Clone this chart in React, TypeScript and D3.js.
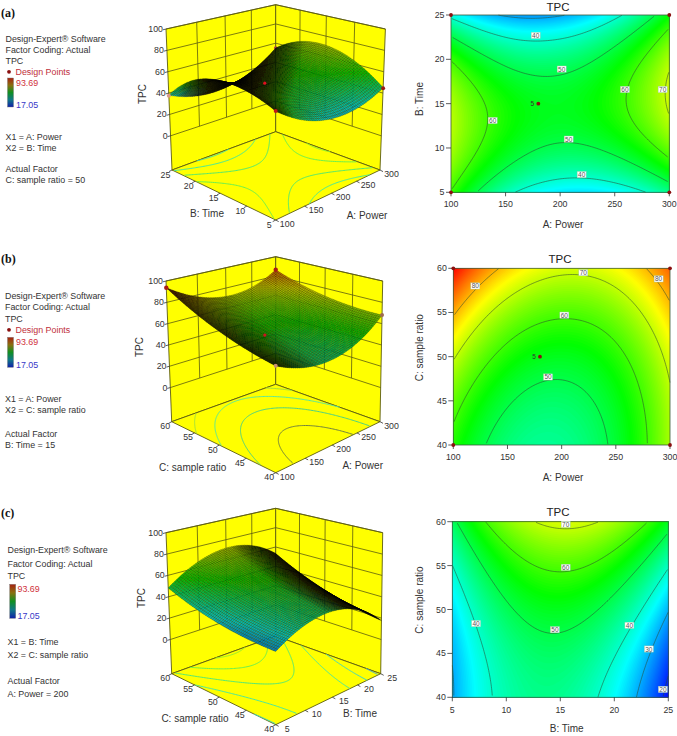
import React from "react";
import * as d3 from "d3";

const FONT = "'Liberation Sans', Arial, sans-serif";
const powerTicks = [100, 150, 200, 250, 300];
const timeTicks = [5, 10, 15, 20, 25];
const ratioTicks = [40, 45, 50, 55, 60];
const zTicks = [0, 20, 40, 60, 80, 100];
const colorStops = [17.05, 36.2, 55.37, 74.53, 93.69];
const colorNames = ["#0000ff", "#00ffff", "#00ff00", "#ffff00", "#ff0000"];

// response: rows low -> high second factor, columns low -> high first factor
const tpcPowerTime = [
  [59.5, 42, 34.5, 35.6, 45],
  [68, 54.3, 49, 52, 63.3],
  [68.5, 56.4, 53, 57.9, 71],
  [59.5, 48, 46.5, 53.3, 68.3],
  [38, 29.3, 29.5, 38.1, 55],
];
const tpcPowerRatio = [
  [57.8, 46.6, 44.6, 51.6, 68],
  [63, 50.8, 47.7, 53.6, 68.9],
  [70.8, 57.4, 53.2, 58, 72.3],
  [81, 66.5, 61.3, 65, 78.2],
  [93.7, 78.2, 71.8, 74.4, 86.5],
];
const tpcTimeRatio = [
  [29.5, 42.3, 44.6, 36.4, 17.7],
  [30.5, 44.3, 47.7, 40.5, 22.9],
  [33.9, 48.8, 53.2, 47.1, 30.5],
  [39.9, 55.8, 61.3, 56.2, 40.7],
  [48.3, 65.3, 71.8, 67.8, 53.3],
];

const levelsA = [30, 40, 50, 60, 70];
const levelsB = [50, 60, 70, 80];
const levelsC = [20, 30, 40, 50, 60, 70];

const labelsAValue = [40, 50, 60, 60, 70, 50, 40];
const labelsAX = [177.6, 201.4, 138.2, 259.4, 293.9, 207.8, 219.7];
const labelsAY = [22.7, 18.9, 13.1, 16.6, 16.6, 11, 7];
const labelsBValue = [80, 70, 80, 60, 50];
const labelsBX = [120.3, 220, 289.5, 202.5, 187.4];
const labelsBY = [58, 59.5, 58.8, 54.7, 47.7];
const labelsCValue = [70, 60, 40, 50, 40, 30, 20];
const labelsCX = [15.5, 15.5, 7.2, 14.5, 21.4, 23.2, 24.5];
const labelsCY = [59.7, 54.8, 48.4, 47.7, 48.2, 45.5, 40.9];

const pointsAX = [300, 100, 300, 100, 180];
const pointsAY = [25, 25, 5, 5, 15];
const pointsAZ = [55, 37.5, 44.5, 59.6, 52.5];
const pointsBX = [300, 100, 300, 100, 180];
const pointsBY = [60, 60, 40, 40, 50];
const pointsBZ = [86.5, 93.7, 68, 58, 52.5];

const legendA = ["X1 = A: Power", "X2 = B: Time", "Actual Factor", "C: sample ratio = 50"];
const legendB = ["X1 = A: Power", "X2 = C: sample ratio", "Actual Factor", "B: Time = 15"];
const legendC = ["X1 = B: Time", "X2 = C: sample ratio", "Actual Factor", "A: Power = 200"];

const color = d3.scaleLinear<string>().domain(colorStops).range(colorNames).clamp(true);

function spline(p: number[], t: number) {
  const n = p.length;
  const s = Math.min(Math.max(t, 0), n - 1) ;
  const i = Math.min(Math.floor(s), n - 2);
  const f = s - i;
  const at = (k: number) => {
    if (k < 0) return 3 * p[0] - 3 * p[1] + p[2];
    if (k >= n) return 3 * p[n - 1] - 3 * p[n - 2] + p[n - 3];
    return p[k];
  };
  const a = at(i - 1), b = at(i), c = at(i + 1), d = at(i + 2);
  return 0.5 * (2 * b + (c - a) * f + (2 * a - 5 * b + 4 * c - d) * f * f + (3 * b - a - 3 * c + d) * f * f * f);
}
function surfaceAt(grid: number[][], u: number, v: number) {
  const col = grid.map((row) => spline(row, u * 4));
  return spline(col, v * 4);
}
function sample(grid: number[][], nx: number, ny: number) {
  const out = new Float64Array(nx * ny);
  for (let j = 0; j < ny; j++)
    for (let i = 0; i < nx; i++) out[j * nx + i] = surfaceAt(grid, i / (nx - 1), j / (ny - 1));
  return out;
}
function contourRings(grid: number[][], thresholds: number[], nx = 130, ny = 100) {
  return d3.contours().size([nx, ny]).thresholds(thresholds)(sample(grid, nx, ny) as any);
}
function openRuns(ring: number[][], nx: number, ny: number) {
  const inside = (p: number[]) => p[0] > 0.5 && p[0] < nx - 0.5 && p[1] > 0.5 && p[1] < ny - 0.5;
  const start = ring.findIndex((p) => !inside(p));
  if (start < 0) return [ring];
  const runs: number[][][] = [];
  let cur: number[][] = [];
  for (let k = 0; k < ring.length; k++) {
    const p = ring[(start + k) % ring.length];
    if (inside(p)) cur.push(p);
    else {
      if (cur.length > 1) runs.push(cur);
      cur = [];
    }
  }
  if (cur.length > 1) runs.push(cur);
  return runs;
}
function levelLines(grid: number[][], levels: number[]) {
  const nx = 130, ny = 100;
  return contourRings(grid, levels, nx, ny).flatMap((c: any) =>
    c.coordinates.flatMap((poly: number[][][]) =>
      poly.flatMap((ring) =>
        openRuns(ring, nx, ny).map((run) => ({
          value: c.value as number,
          uv: run.map((p) => [(p[0] - 0.5) / (nx - 1), (p[1] - 0.5) / (ny - 1)]),
        }))
      )
    )
  );
}

type Pt = [number, number];
function homography(p0: Pt, p1: Pt, p2: Pt, p3: Pt) {
  const dx1 = p1[0] - p2[0], dx2 = p3[0] - p2[0], sx = p0[0] - p1[0] + p2[0] - p3[0];
  const dy1 = p1[1] - p2[1], dy2 = p3[1] - p2[1], sy = p0[1] - p1[1] + p2[1] - p3[1];
  const den = dx1 * dy2 - dx2 * dy1;
  const g = (sx * dy2 - dx2 * sy) / den, h = (dx1 * sy - sx * dy1) / den;
  const a = p1[0] - p0[0] + g * p1[0], b = p3[0] - p0[0] + h * p3[0];
  const d = p1[1] - p0[1] + g * p1[1], e = p3[1] - p0[1] + h * p3[1];
  return (u: number, v: number): Pt => {
    const w = g * u + h * v + 1;
    return [(a * u + b * v + p0[0]) / w, (d * u + e * v + p0[1]) / w];
  };
}

const poly = (pts: Pt[], close = true) =>
  "M" + pts.map((p) => `${p[0].toFixed(2)},${p[1].toFixed(2)}`).join("L") + (close ? "Z" : "");

const FLOOR_Z = -32;
const CELLS = 62;
const WALL = "#5c5c10";
const TICK_FS = 8.8;
const TITLE_FS = 10;

function Surface3D(props: any) {
  const { grid, uTicks, vTicks, levels, levelColor, F, R, K, L, TF, TR, TK, TL, uTitle, vTitle, uTitlePos, vTitlePos, zTitlePos, points, pointStyle } = props;
  const floor = homography(F, R, K, L);
  const top = homography(TF, TR, TK, TL);
  const uS = d3.scaleLinear().domain([uTicks[0], uTicks[4]]).range([0, 1]);
  const vS = d3.scaleLinear().domain([vTicks[0], vTicks[4]]).range([0, 1]);
  const zS = d3.scaleLinear().domain([FLOOR_Z, 100]).range([0, 1]);
  const P = (u: number, v: number, z: number): Pt => {
    const a = floor(u, v), b = top(u, v), t = zS(z);
    return [a[0] + (b[0] - a[0]) * t, a[1] + (b[1] - a[1]) * t];
  };
  const mesh: { d: string; fill: string }[] = [];
  const zv = (i: number, j: number) => surfaceAt(grid, i / CELLS, j / CELLS);
  for (let i = CELLS - 1; i >= 0; i--)
    for (let j = CELLS - 1; j >= 0; j--) {
      const zs = [zv(i, j), zv(i + 1, j), zv(i + 1, j + 1), zv(i, j + 1)];
      const q: Pt[] = [
        P(i / CELLS, j / CELLS, zs[0]),
        P((i + 1) / CELLS, j / CELLS, zs[1]),
        P((i + 1) / CELLS, (j + 1) / CELLS, zs[2]),
        P(i / CELLS, (j + 1) / CELLS, zs[3]),
      ];
      const area = Math.abs(d3.polygonArea(q));
      const f = 0.72 * Math.pow(Math.min(1, area / 2.7), 2.3);
      mesh.push({ d: poly(q), fill: d3.interpolateRgb("#000000", color(d3.mean(zs) as number))(f) });
    }
  const lines = levelLines(grid, levels);
  const wallLine = (a: Pt, b: Pt, key: string) => (
    <line key={key} x1={a[0]} y1={a[1]} x2={b[0]} y2={b[1]} stroke={WALL} strokeWidth={0.8} />
  );
  const dots = (flagged: boolean) =>
    points &&
    points.x.map((x: number, i: number) => {
      const st = pointStyle[i];
      if (st.behind !== flagged) return null;
      const p = P(uS(x), vS(points.y[i]), points.z[i]);
      return <circle key={i} cx={p[0]} cy={p[1]} r={st.r} fill={st.fill} />;
    });
  return (
    <g>
      <path d={poly([L, K, TK, TL])} fill="#ffff00" stroke={WALL} strokeWidth={0.9} />
      <path d={poly([K, R, TR, TK])} fill="#ffff00" stroke={WALL} strokeWidth={0.9} />
      <path d={poly([F, R, K, L])} fill="#ffff00" stroke={WALL} strokeWidth={0.9} />
      {zTicks.map((z) => (
        <g key={z}>
          {wallLine(P(0, 1, z), P(1, 1, z), "a")}
          {wallLine(P(1, 1, z), P(1, 0, z), "b")}
        </g>
      ))}
      {uTicks.slice(1, 4).map((t: number) => wallLine(P(uS(t), 1, 0), P(uS(t), 1, 100), "u" + t))}
      {vTicks.slice(1, 4).map((t: number) => wallLine(P(1, vS(t), 0), P(1, vS(t), 100), "v" + t))}
      {lines.map((l: any, i: number) => (
        <path key={i} d={poly(l.uv.map((q: number[]) => floor(q[0], q[1])), false)} fill="none" stroke={levelColor[l.value]} strokeWidth={1} />
      ))}
      {/* axes ticks */}
      {uTicks.map((t: number) => {
        const p = floor(uS(t), 0);
        return (
          <g key={t}>
            <line x1={p[0]} y1={p[1]} x2={p[0] + 3} y2={p[1] + 1.6} stroke="#333" strokeWidth={0.8} />
            <text x={p[0] + 11.5} y={p[1] + 4} fontSize={TICK_FS} fontFamily={FONT} fill="#333" textAnchor="middle" dominantBaseline="central">{t}</text>
          </g>
        );
      })}
      {vTicks.map((t: number) => {
        const p = floor(0, vS(t));
        return (
          <g key={t}>
            <line x1={p[0]} y1={p[1]} x2={p[0] - 3} y2={p[1] + 1.6} stroke="#333" strokeWidth={0.8} />
            <text x={p[0] - 6.5} y={p[1] + 4.5} fontSize={TICK_FS} fontFamily={FONT} fill="#333" textAnchor="middle" dominantBaseline="central">{t}</text>
          </g>
        );
      })}
      {zTicks.map((z) => {
        const p = P(0, 1, z);
        return (
          <g key={z}>
            <line x1={p[0]} y1={p[1]} x2={p[0] - 3} y2={p[1] + 0.8} stroke="#333" strokeWidth={0.8} />
            <text x={p[0] - 3} y={p[1]} fontSize={TICK_FS} fontFamily={FONT} fill="#333" textAnchor="end" dominantBaseline="central">{z}</text>
          </g>
        );
      })}
      {dots(true)}
      <g filter="url(#soft)">
        {mesh.map((m, i) => (
          <path key={i} d={m.d} fill={m.fill} stroke="#000" strokeWidth={0.2} />
        ))}
      </g>
      {dots(false)}
      <text x={uTitlePos[0]} y={uTitlePos[1]} fontSize={TITLE_FS} fontFamily={FONT} fill="#333" textAnchor="middle" dominantBaseline="central">{uTitle}</text>
      <text x={vTitlePos[0]} y={vTitlePos[1]} fontSize={TITLE_FS} fontFamily={FONT} fill="#333" textAnchor="middle" dominantBaseline="central">{vTitle}</text>
      <text transform={`translate(${zTitlePos[0]},${zTitlePos[1]}) rotate(-90)`} fontSize={TITLE_FS} fontFamily={FONT} fill="#333" textAnchor="middle" dominantBaseline="central">TPC</text>
    </g>
  );
}

const fillThresholds = d3.range(14, 96, 0.5);

function Contour2D(props: any) {
  const { grid, xTicks, yTicks, levels, box, xTitle, yTitle, xTitleY, xTitleX, yTitleX, yTitleY, titleX, titleY, tickY, labels, points } = props;
  const [l, r, t, b] = box;
  const x = d3.scaleLinear().domain([xTicks[0], xTicks[4]]).range([l, r]);
  const y = d3.scaleLinear().domain([yTicks[0], yTicks[4]]).range([b, t]);
  const nx = 130, ny = 100;
  const X = d3.scaleLinear().domain([0.5, nx - 0.5]).range([l, r]).clamp(true);
  const Y = d3.scaleLinear().domain([0.5, ny - 0.5]).range([b, t]).clamp(true);
  const bands = contourRings(grid, fillThresholds, nx, ny);
  const lines = levelLines(grid, levels);
  return (
    <g>
      <rect x={l} y={t} width={r - l} height={b - t} fill={color(14)} />
      {bands.map((c: any) => (
        <path
          key={c.value}
          fill={color(c.value + 0.25)}
          fillRule="evenodd"
          d={c.coordinates.map((pg: number[][][]) => pg.map((ring) => poly(ring.map((p) => [X(p[0]), Y(p[1])] as Pt))).join("")).join("")}
        />
      ))}
      {lines.map((ln: any, i: number) => (
        <path key={i} fill="none" stroke="#2a4a30" strokeWidth={0.55} d={poly(ln.uv.map((q: number[]) => [l + q[0] * (r - l), b + q[1] * (t - b)] as Pt), false)} />
      ))}
      <rect x={l} y={t} width={r - l} height={b - t} fill="none" stroke="#3d5a3d" strokeWidth={0.8} />
      {xTicks.map((v: number) => (
        <g key={v}>
          <line x1={x(v)} x2={x(v)} y1={b} y2={b + 4} stroke="#333" strokeWidth={0.8} />
          <text x={x(v)} y={tickY} fontSize={TICK_FS} fontFamily={FONT} fill="#333" textAnchor="middle">{v}</text>
        </g>
      ))}
      {yTicks.map((v: number) => (
        <g key={v}>
          <line x1={l - 5} x2={l} y1={y(v)} y2={y(v)} stroke="#333" strokeWidth={0.8} />
          <text x={l - 6.5} y={y(v)} fontSize={TICK_FS} fontFamily={FONT} fill="#333" textAnchor="end" dominantBaseline="central">{v}</text>
        </g>
      ))}
      {labels.value.map((v: number, i: number) => (
        <g key={i}>
          <rect x={x(labels.x[i]) - 4.5} y={y(labels.y[i]) - 3.1} width={9} height={6.2} fill="#ffffff" stroke="#9fc8a8" strokeWidth={0.4} />
          <text x={x(labels.x[i])} y={y(labels.y[i])} fontSize={6.5} fontFamily={FONT} fill="#555" textAnchor="middle" dominantBaseline="central">{v}</text>
        </g>
      ))}
      {points &&
        points.x.map((v: number, i: number) => <circle key={i} cx={x(v)} cy={y(points.y[i])} r={1.9} fill="#8a1010" />)}
      {points && (
        <text x={x(points.x[4]) - 6} y={y(points.y[4]) - 0.5} fontSize={6.5} fontFamily={FONT} fill="#333" textAnchor="middle" dominantBaseline="central">5</text>
      )}
      <text x={titleX} y={titleY} fontSize={11.5} fontFamily={FONT} fill="#222" textAnchor="middle">TPC</text>
      <text x={xTitleX} y={xTitleY} fontSize={TITLE_FS} fontFamily={FONT} fill="#333" textAnchor="middle">{xTitle}</text>
      <text transform={`translate(${yTitleX},${yTitleY}) rotate(-90)`} fontSize={TITLE_FS} fontFamily={FONT} fill="#333" textAnchor="middle" dominantBaseline="central">{yTitle}</text>
    </g>
  );
}

function Legend(props: any) {
  const { x, letter, letterY, ys, lines, showPoints, barX, barTop, barBottom, hiY, loY, valX } = props;
  const T = (s: string, yy: number, xx = x, fill = "#333") => (
    <text key={s + yy} x={xx} y={yy} fontSize={8.9} fontFamily={FONT} fill={fill}>{s}</text>
  );
  return (
    <g>
      <text x={1} y={letterY} fontSize={12} fontWeight="bold" fontFamily="'Liberation Serif', serif" fill="#111">{letter}</text>
      {T("Design-Expert® Software", ys[0])}
      {T("Factor Coding: Actual", ys[1])}
      {T("TPC", ys[2])}
      {showPoints && (
        <g>
          <circle cx={9} cy={ys[3] - 3.2} r={1.9} fill="#8a1010" />
          {T("Design Points", ys[3], 15.5, "#c0303a")}
        </g>
      )}
      <rect x={barX} y={barTop} width={6} height={barBottom - barTop} fill="url(#legendBar)" stroke="#777" strokeWidth={0.4} />
      {T("93.69", hiY, valX, "#d0303a")}
      {T("17.05", loY, valX, "#3838c8")}
      {lines.map((s: string, i: number) => T(s, ys[4 + i]))}
    </g>
  );
}

const dotStyleA = [
  { behind: true, r: 1.8, fill: "#b04040" },
  { behind: false, r: 2, fill: "#d89a88" },
  { behind: false, r: 2, fill: "#9a1c14" },
  { behind: false, r: 2, fill: "#c01818" },
  { behind: false, r: 1.6, fill: "#e01020" },
];
const dotStyleB = [
  { behind: false, r: 2.2, fill: "#a81c14" },
  { behind: false, r: 2.2, fill: "#a81c14" },
  { behind: false, r: 2, fill: "#a06a50" },
  { behind: false, r: 2, fill: "#c89070" },
  { behind: false, r: 1.6, fill: "#d01020" },
];

export default function App() {
  return (
    <svg width={677} height={736} style={{ position: "absolute", left: 0, top: 0, background: "#fff" }}>
      <defs>
        <linearGradient id="legendBar" x1="0" y1="0" x2="0" y2="1">
          <stop offset="0" stopColor="#a82010" />
          <stop offset="0.25" stopColor="#8a7010" />
          <stop offset="0.5" stopColor="#109020" />
          <stop offset="0.75" stopColor="#107888" />
          <stop offset="1" stopColor="#1020a8" />
        </linearGradient>
        <filter id="soft" x="-5%" y="-5%" width="110%" height="110%">
          <feGaussianBlur stdDeviation="0.4" />
        </filter>
      </defs>

      <Legend letter="(a)" x={5.5} letterY={16.7} ys={[42, 53, 64, 75, 140, 150.7, 172, 183]} lines={legendA} showPoints barX={7.5} barTop={78} barBottom={107} hiY={85.5} loY={107.5} valX={16} />
      <Surface3D
        grid={tpcPowerTime} uTicks={powerTicks} vTicks={timeTicks} levels={levelsA}
        levelColor={{ 30: "#40e0a8", 40: "#40e8a0", 50: "#50e870", 60: "#68f050", 70: "#90f030" }}
        F={[275.7, 220]} R={[380, 170]} K={[275.7, 131.7]} L={[172, 170]}
        TF={[275.7, 63]} TR={[385.4, 29]} TK={[275.7, 4.7]} TL={[166, 29]}
        uTitle="A: Power" vTitle="B: Time" uTitlePos={[367, 215]} vTitlePos={[207, 213]} zTitlePos={[142.7, 94]}
        points={{ x: pointsAX, y: pointsAY, z: pointsAZ }} pointStyle={dotStyleA}
      />
      <Contour2D
        grid={tpcPowerTime} xTicks={powerTicks} yTicks={timeTicks} levels={levelsA} box={[451, 669.3, 15, 192.3]}
        xTitle="A: Power" yTitle="B: Time" xTitleX={563} xTitleY={228} yTitleX={419} yTitleY={99} titleX={558} titleY={10.7} tickY={207.3}
        labels={{ value: labelsAValue, x: labelsAX, y: labelsAY }} points={{ x: pointsAX, y: pointsAY }}
      />

      <Legend letter="(b)" x={5} letterY={262.7} ys={[298.7, 310, 321.7, 333, 401.7, 413.3, 436.7, 447.7]} lines={legendB} showPoints barX={7.5} barTop={337.3} barBottom={367.3} hiY={345} loY={367.7} valX={16} />
      <Surface3D
        grid={tpcPowerRatio} uTicks={powerTicks} vTicks={ratioTicks} levels={levelsB}
        levelColor={{ 50: "#6f7f40", 60: "#48d088", 70: "#55e8a0", 80: "#a0e040" }}
        F={[275.7, 472.7]} R={[380, 421.7]} K={[275.7, 384.3]} L={[171.7, 421.7]}
        TF={[275.7, 315.7]} TR={[382.7, 281]} TK={[275.7, 256.7]} TL={[166, 281]}
        uTitle="A: Power" vTitle="C: sample ratio" uTitlePos={[362.7, 465.7]} vTitlePos={[192.7, 467.7]} zTitlePos={[139, 347]}
        points={{ x: pointsBX, y: pointsBY, z: pointsBZ }} pointStyle={dotStyleB}
      />
      <Contour2D
        grid={tpcPowerRatio} xTicks={powerTicks} yTicks={ratioTicks} levels={levelsB} box={[453.3, 670, 268.3, 445]}
        xTitle="A: Power" yTitle="C: sample ratio" xTitleX={563} xTitleY={481} yTitleX={419} yTitleY={347.7} titleX={560} titleY={263.3} tickY={460}
        labels={{ value: labelsBValue, x: labelsBX, y: labelsBY }} points={{ x: pointsBX, y: pointsBY }}
      />

      <Legend letter="(c)" x={7.5} letterY={516.7} ys={[553.3, 566.7, 579.3, 0, 645, 658.3, 684, 697.3]} lines={legendC} barX={9.7} barTop={584.3} barBottom={618.3} hiY={592.3} loY={618.7} valX={17.5} />
      <Surface3D
        grid={tpcTimeRatio} uTicks={timeTicks} vTicks={ratioTicks} levels={levelsC}
        levelColor={{ 20: "#40a8d8", 30: "#40d8c0", 40: "#48e8a0", 50: "#50e878", 60: "#68f050", 70: "#90f030" }}
        F={[275.7, 724.7]} R={[380.7, 673.7]} K={[275.7, 636]} L={[171.7, 673.7]}
        TF={[275.7, 567.7]} TR={[382.7, 532.7]} TK={[275.7, 508.3]} TL={[166, 532.7]}
        uTitle="B: Time" vTitle="C: sample ratio" uTitlePos={[360, 713]} vTitlePos={[195, 718.7]} zTitlePos={[141, 598]}
      />
      <Contour2D
        grid={tpcTimeRatio} xTicks={timeTicks} yTicks={ratioTicks} levels={levelsC} box={[452.3, 668.3, 521.7, 697.3]}
        xTitle="B: Time" yTitle="C: sample ratio" xTitleX={566.7} xTitleY={732} yTitleX={419} yTitleY={600} titleX={558} titleY={516} tickY={712.7}
        labels={{ value: labelsCValue, x: labelsCX, y: labelsCY }}
      />
    </svg>
  );
}
